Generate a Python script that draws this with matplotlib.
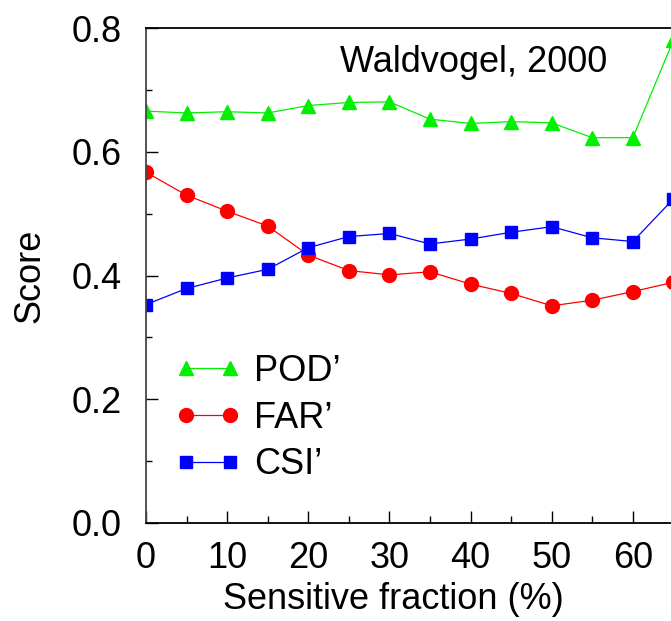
import numpy as np
import matplotlib
matplotlib.use("Agg")
from matplotlib import pyplot as plt
from matplotlib.ticker import FixedLocator, MultipleLocator, FormatStrFormatter

plt.rcParams['font.family'] = ['Liberation Sans', 'DejaVu Sans']

# sensitive fraction (%) and scores
frac = [0, 5, 10, 15, 20, 25, 30, 35, 40, 45, 50, 55, 60, 65]
pod = [0.666, 0.663, 0.665, 0.663, 0.675, 0.680, 0.681, 0.653, 0.646, 0.649, 0.647, 0.623, 0.623, 0.781]
far = [0.567, 0.530, 0.504, 0.480, 0.433, 0.408, 0.401, 0.406, 0.386, 0.371, 0.351, 0.360, 0.374, 0.389]
csi = [0.353, 0.379, 0.396, 0.410, 0.445, 0.463, 0.468, 0.451, 0.459, 0.470, 0.479, 0.461, 0.455, 0.524]

xticks = [0, 10, 20, 30, 40, 50, 60]
fs = 26

fig = plt.figure(figsize=(6.71, 6.21), dpi=100)
# axes runs past the right edge of the figure
ax = fig.add_axes([146 / 671, 98.3 / 621, 568 / 671, 494.4 / 621])

ax.plot(frac, pod, color='#00f000', marker='^', ms=10, lw=0.9, label='POD\u2019')
ax.plot(frac, far, color='#ff0000', marker='o', ms=10, lw=0.9, label='FAR\u2019')
ax.plot(frac, csi, color='#0000ff', marker='s', ms=8, lw=0.9, label='CSI\u2019')

ax.set_xlim(0, 70)
ax.set_ylim(0, 0.8)
ax.xaxis.set_major_locator(FixedLocator(xticks))
ax.xaxis.set_minor_locator(FixedLocator([5, 15, 25, 35, 45, 55, 65]))
ax.yaxis.set_major_locator(MultipleLocator(0.2))
ax.yaxis.set_minor_locator(MultipleLocator(0.1))
ax.yaxis.set_major_formatter(FormatStrFormatter('%.1f'))

ax.tick_params(axis='both', which='both', direction='in', labelsize=fs, width=1)
ax.tick_params(axis='x', which='major', length=9, pad=13)
ax.tick_params(axis='x', which='minor', length=5)
ax.tick_params(axis='y', which='major', length=8.5, pad=17.5)
ax.tick_params(axis='y', which='minor', length=4.5)
ax.tick_params(top=False, right=False)
for sp in ax.spines.values():
    sp.set_linewidth(1.3)
ax.spines['left'].set_color('#444444')

ax.set_xlabel('Sensitive fraction (%)', fontsize=fs)
ax.xaxis.set_label_coords(0.435, -0.12)
ax.set_ylabel('Score', fontsize=fs)
ax.yaxis.set_label_coords(-0.173, 0.5)

ax.text(0.341, 0.912, 'Waldvogel, 2000', transform=ax.transAxes,
        fontsize=fs, va='baseline', ha='left')

ax.legend(loc='upper left', bbox_to_anchor=(0.052, 0.341), frameon=False,
          fontsize=fs, numpoints=2, handlelength=1.82, handletextpad=0.36,
          labelspacing=0.32, borderaxespad=0, borderpad=0)

fig.savefig('out.png', dpi=100)
